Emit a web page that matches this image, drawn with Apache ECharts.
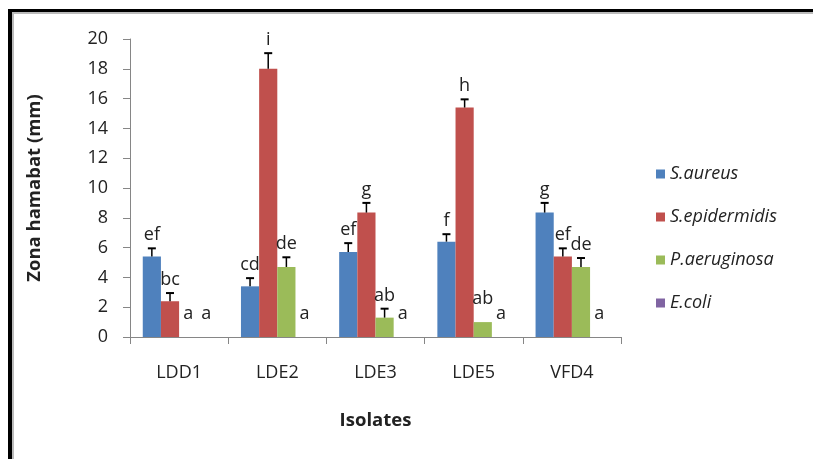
<!DOCTYPE html>
<html>
<head>
<meta charset="utf-8">
<script src="https://cdn.jsdelivr.net/npm/echarts@6/dist/echarts.min.js"></script>
<style>html,body{margin:0;padding:0;background:#fff;}#c{width:813px;height:459px;}</style>
</head>
<body>
<div id="c"></div>
<script>
const categories = ['LDD1', 'LDE2', 'LDE3', 'LDE5', 'VFD4'];
const seriesNames = ['S.aureus', 'S.epidermidis', 'P.aeruginosa', 'E.coli'];
const aureus = [5.4, 3.4, 5.7, 6.4, 8.35];
const epidermidis = [2.4, 18.0, 8.35, 15.4, 5.4];
const aeruginosa = [0, 4.7, 1.3, 1.0, 4.7];
const ecoli = [0, 0, 0, 0, 0];
const aureusErr = [0.55, 0.55, 0.6, 0.5, 0.65];
const epidermidisErr = [0.55, 1.05, 0.65, 0.55, 0.55];
const aeruginosaErr = [0, 0.65, 0.6, 0, 0.6];
const ecoliErr = [0, 0, 0, 0, 0];
const aureusLetters = ['ef', 'cd', 'ef', 'f', 'g'];
const epidermidisLetters = ['bc', 'i', 'g', 'h', 'ef'];
const aeruginosaLetters = ['a', 'de', 'ab', 'ab', 'de'];
const ecoliLetters = ['a', 'a', 'a', 'a', 'a'];
const yTicks = [0, 2, 4, 6, 8, 10, 12, 14, 16, 18, 20];

const values = [aureus, epidermidis, aeruginosa, ecoli];
const errs = [aureusErr, epidermidisErr, aeruginosaErr, ecoliErr];
const letters = [aureusLetters, epidermidisLetters, aeruginosaLetters, ecoliLetters];
const colors = ['#4F81BD', '#C0504D', '#9BBB59', '#8064A2'];
const CAT_GAP = 0.26;
const FONT = '"Open Sans", sans-serif';

const chart = echarts.init(document.getElementById('c'));
const series = [];
seriesNames.forEach((name, k) => {
  series.push({
    name: name, type: 'bar', data: values[k],
    barGap: '0%', barCategoryGap: (CAT_GAP * 100) + '%',
    itemStyle: { color: colors[k] }, z: 2
  });
});
seriesNames.forEach((name, k) => {
  series.push({
    name: name + '_err', type: 'custom', z: 5, silent: true,
    data: categories.map((c, i) => [i, values[k][i], errs[k][i]]),
    encode: { x: 0, y: 1 },
    renderItem: function (params, api) {
      const i = api.value(0), v = api.value(1), e = api.value(2);
      const letter = letters[k][params.dataIndex];
      const band = api.size([1, 0])[0];
      const bw = band * (1 - CAT_GAP) / 4;
      const base = api.coord([i, v]);
      const x = base[0] + bw * (k - 1.5);
      const children = [];
      let labelY;
      if (e > 0) {
        const top = api.coord([i, v + e])[1];
        children.push({ type: 'line', shape: { x1: x, y1: base[1], x2: x, y2: top }, style: { stroke: '#000', lineWidth: 1.5 } });
        children.push({ type: 'line', shape: { x1: x - 4, y1: top, x2: x + 4, y2: top }, style: { stroke: '#000', lineWidth: 2 } });
        labelY = top - 13;
      } else {
        labelY = base[1] - 23;
      }
      children.push({ type: 'text', style: { text: letter, x: x, y: labelY, align: 'center', verticalAlign: 'middle', font: '18px ' + FONT, fill: '#222' } });
      return { type: 'group', children: children };
    }
  });
});

chart.setOption({
  backgroundColor: '#fff',
  animation: false,
  grid: { left: 130, right: 192, top: 39, bottom: 122 },
  legend: {
    data: seriesNames, orient: 'vertical', left: 656, top: 165, padding: 0,
    itemWidth: 9, itemHeight: 9, itemGap: 25, icon: 'rect',
    textStyle: { fontFamily: FONT, fontSize: 18, fontStyle: 'italic', color: '#222', lineHeight: 18 }
  },
  xAxis: {
    type: 'category', data: categories,
    name: 'Isolates', nameLocation: 'middle', nameGap: 74,
    nameTextStyle: { fontFamily: FONT, fontSize: 18.5, fontWeight: 'bold', color: '#222' },
    axisLine: { lineStyle: { color: '#868686', width: 1 } },
    axisTick: { show: true, length: 7, alignWithLabel: false, lineStyle: { color: '#868686' } },
    axisLabel: { margin: 27, fontFamily: FONT, fontSize: 18, color: '#222' }
  },
  yAxis: {
    type: 'value', min: 0, max: 20, interval: 2,
    name: 'Zona hamabat (mm)', nameLocation: 'middle', nameGap: 86,
    nameTextStyle: { fontFamily: FONT, fontSize: 18.5, fontWeight: 'bold', color: '#222' },
    axisLine: { show: true, lineStyle: { color: '#868686', width: 1 } },
    axisTick: { show: true, length: 7, lineStyle: { color: '#868686' } },
    splitLine: { show: false },
    axisLabel: { margin: 22, fontFamily: FONT, fontSize: 18, color: '#222',
      formatter: v => yTicks.includes(v) ? String(v) : '' }
  },
  graphic: [
    { type: 'rect', shape: { x: 8, y: 9, width: 805, height: 3 }, style: { fill: '#000' }, silent: true },
    { type: 'rect', shape: { x: 12, y: 12, width: 801, height: 2 }, style: { fill: '#bbb' }, silent: true },
    { type: 'rect', shape: { x: 8, y: 9, width: 4, height: 450 }, style: { fill: '#000' }, silent: true },
    { type: 'rect', shape: { x: 12, y: 12, width: 2, height: 447 }, style: { fill: '#bbb' }, silent: true }
  ],
  series: series
});
</script>
</body>
</html>
